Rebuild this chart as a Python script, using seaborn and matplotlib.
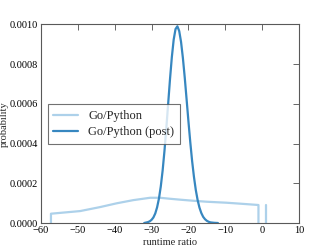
import numpy as np
import pandas as pd
import matplotlib
matplotlib.use("Agg")
import matplotlib.pyplot as plt
import seaborn as sns

# prior curve (two pieces)
prior_x = [-57.3, -57.3, -49.4, -44.0, -39.5, -35.0, -30.4, -27.7, -25.0, -22.0,
           -18.7, -15.0, -9.6, -5.0, -1.0, -1.0]
prior_y = [0.0, 0.0000468, 0.0000600, 0.0000800, 0.0000990, 0.0001150, 0.0001270,
           0.0001270, 0.0001220, 0.0001170, 0.0001120, 0.0001070, 0.0001020,
           0.0000960, 0.0000906, 0.0]
tail_x = [1.0, 1.0]
tail_y = [0.0, 0.0000920]

# posterior curve
post_x = [-32.0, -31.0, -30.5, -30.0, -29.5, -29.0, -28.5, -28.0, -27.5, -27.0,
          -26.5, -26.0, -25.5, -25.0, -24.5, -24.0, -23.5, -23.0, -22.5, -22.0,
          -21.5, -21.0, -20.5, -20.0, -19.5, -19.0, -18.5, -18.0, -17.5, -17.0,
          -16.5, -16.0, -15.5, -15.0, -14.5, -14.0, -13.0, -12.0]
post_y = [0.0, 0.0000044, 0.0000085, 0.000016, 0.000028, 0.000048, 0.000079,
          0.000123, 0.000184, 0.000264, 0.000363, 0.000477, 0.000600, 0.000724,
          0.000835, 0.000923, 0.000976, 0.000990, 0.000966, 0.000911, 0.000830,
          0.000732, 0.000623, 0.000512, 0.000407, 0.000312, 0.000232, 0.000166,
          0.000115, 0.000077, 0.000050, 0.000031, 0.000019, 0.000011, 0.000006,
          0.000003, 0.000001, 0.0]

names = ["Go/Python", "Go/Python (post)"]
colors = ["#add1ea", "#3787c0"]

df = pd.concat([
    pd.DataFrame({"x": prior_x, "y": prior_y, "series": names[0], "seg": 0}),
    pd.DataFrame({"x": tail_x, "y": tail_y, "series": names[0], "seg": 1}),
    pd.DataFrame({"x": post_x, "y": post_y, "series": names[1], "seg": 2}),
])

sns.set_style("white")
plt.rcParams["font.family"] = ["Liberation Serif", "DejaVu Serif"]
plt.rcParams["axes.unicode_minus"] = True

fig, ax = plt.subplots(figsize=(3.32, 2.49), dpi=100)
fig.subplots_adjust(left=0.1235, right=0.9006, top=0.9024, bottom=0.1044)

sns.lineplot(data=df, x="x", y="y", hue="series", units="seg", estimator=None,
             sort=False, palette=colors, linewidth=1.6, ax=ax)

ax.set_xlim(-60, 10)
ax.set_ylim(0, 0.001)
ax.set_xticks(np.arange(-60, 11, 10))
ax.set_yticks(np.arange(0, 0.00101, 0.0002))
ax.yaxis.set_major_formatter(matplotlib.ticker.FormatStrFormatter("%.4f"))
ax.tick_params(direction="in", top=True, right=True, length=4, width=0.6,
               labelsize=7.5, pad=2, colors="0.3", labelcolor="black")
for s in ax.spines.values():
    s.set_color("0.35")
    s.set_linewidth(0.8)
ax.set_xlabel("runtime ratio", fontsize=7.5, labelpad=2)
ax.set_ylabel("probability", fontsize=7.5, labelpad=1)

handles, labels = ax.get_legend_handles_labels()
leg = ax.legend(handles, labels, loc="lower left", bbox_to_anchor=(0.026, 0.398),
                fontsize=9, frameon=True, fancybox=False, handlelength=2.0,
                borderaxespad=0, borderpad=0.45, labelspacing=0.35)
leg.get_frame().set_edgecolor("0.3")
leg.get_frame().set_linewidth(0.8)

fig.savefig("out.png", dpi=100)
